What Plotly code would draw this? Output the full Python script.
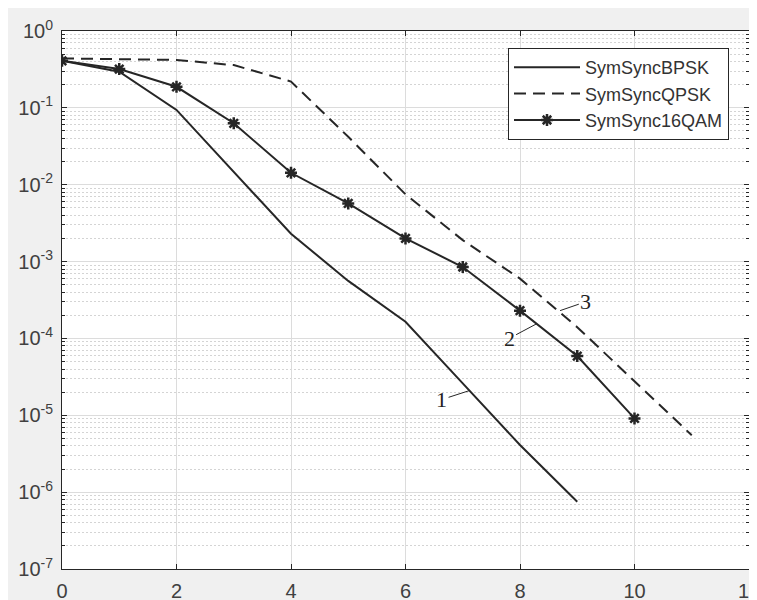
import numpy as np
import plotly.graph_objects as go

# ---- data ----
x_bpsk = [0, 1, 2, 3, 4, 5, 6, 7, 8, 9]
y_bpsk = [0.41, 0.295, 0.094, 0.0145, 0.0023, 5.6e-4, 1.65e-4, 2.6e-5, 4.1e-6, 7.5e-7]

x_qpsk = [0, 1, 2, 3, 4, 5, 6, 7, 8, 9, 10, 11]
y_qpsk = [0.44, 0.43, 0.42, 0.36, 0.22, 0.042, 0.0075, 0.0019, 6.0e-4, 1.4e-4, 2.8e-5, 5.5e-6]

x_qam = [0, 1, 2, 3, 4, 5, 6, 7, 8, 9, 10]
y_qam = [0.41, 0.32, 0.188, 0.063, 0.0143, 0.0057, 0.0020, 8.5e-4, 2.3e-4, 5.9e-5, 9.1e-6]

series_names = ["SymSyncBPSK", "SymSyncQPSK", "SymSync16QAM"]

x_ticks = [0, 2, 4, 6, 8, 10, 12]
y_exponents = [0, -1, -2, -3, -4, -5, -6, -7]

# curve labels (1, 2, 3) with leader lines
label_texts = ["1", "2", "3"]
label_tip_x = [7.12, 8.29, 8.70]
label_tip_y = [2.1e-5, 1.55e-4, 2.3e-4]
label_txt_x = [6.63, 7.81, 9.15]
label_txt_y = [1.6e-5, 1.0e-4, 3.0e-4]

# ---- figure ----
ink = "#262626"
fig = go.Figure()
fig.add_trace(go.Scatter(x=x_bpsk, y=y_bpsk, mode="lines", name=series_names[0],
                         line=dict(color=ink, width=2)))
fig.add_trace(go.Scatter(x=x_qpsk, y=y_qpsk, mode="lines", name=series_names[1],
                         line=dict(color=ink, width=2, dash="12px,7px")))
fig.add_trace(go.Scatter(x=x_qam, y=y_qam, mode="lines+markers", name=series_names[2],
                         line=dict(color=ink, width=2),
                         marker=dict(symbol="asterisk-open", size=10,
                                     line=dict(color="#111111", width=2.5))))

tickvals = [10.0 ** e for e in y_exponents]
ticktext = ["10<sup>%d</sup>" % e for e in y_exponents]
minor_vals = [k * 10.0 ** e for e in range(-7, 0) for k in range(2, 10)]

axis_common = dict(showline=True, linecolor=ink, linewidth=1, mirror="ticks",
                   ticks="inside", tickcolor=ink, ticklen=5, zeroline=False,
                   showgrid=True, gridcolor="#dcdcdc", gridwidth=1, automargin=False,
                   ticklabeloverflow="allow",
                   tickfont=dict(family="Liberation Sans, Arial", size=20, color="#404040"))

fig.update_xaxes(range=[0, 12], tickmode="array", tickvals=x_ticks,
                 ticktext=[str(v) for v in x_ticks], ticklabelstandoff=4,
                 **axis_common)
fig.update_yaxes(type="log", range=[-7, 0], tickmode="array", tickvals=tickvals,
                 ticktext=ticktext, ticklabelstandoff=4,
                 minor=dict(tickmode="array", tickvals=minor_vals, ticks="inside",
                            ticklen=3, tickcolor=ink, showgrid=True,
                            gridcolor="#d4d4d4", griddash="2px,2px", gridwidth=1),
                 **axis_common)

for t, tx, ty, ax, ay in zip(label_texts, label_tip_x, label_tip_y, label_txt_x, label_txt_y):
    fig.add_annotation(x=tx, y=np.log10(ty), ax=ax, ay=np.log10(ay),
                       xref="x", yref="y", axref="x", ayref="y",
                       text=t, showarrow=True, arrowhead=0, arrowwidth=1,
                       arrowcolor=ink, standoff=0, startstandoff=0,
                       font=dict(family="Liberation Serif, Times New Roman", size=22,
                                 color="#222222"))

fig.update_layout(
    width=757, height=600,
    margin=dict(l=54, r=16, t=23, b=39),
    paper_bgcolor="#f0f0f0", plot_bgcolor="white",
    showlegend=True,
    legend=dict(x=(729 - 62) / 687, xanchor="right", y=1 - (48 - 31) / 538, yanchor="top",
                bgcolor="white", bordercolor=ink, borderwidth=1,
                font=dict(family="Liberation Sans, Arial", size=18, color="#333333"),
                itemwidth=66, tracegroupgap=0),
)

fig.write_html("out.html")
